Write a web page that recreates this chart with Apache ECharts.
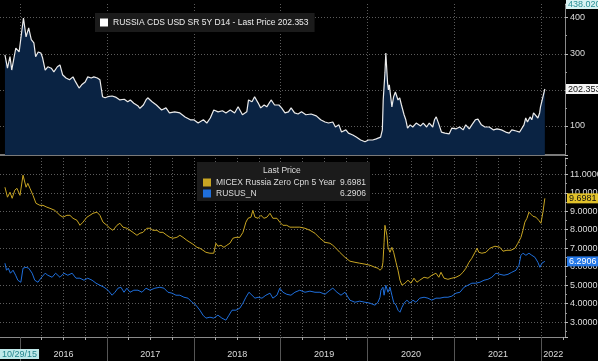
<!DOCTYPE html>
<html><head><meta charset="utf-8">
<script src="https://cdn.jsdelivr.net/npm/echarts@6/dist/echarts.min.js"></script>
<style>html,body{margin:0;padding:0;background:#000;}#c{width:598px;height:361px;}</style>
</head><body><div id="c"></div>
<script>
// ---- data (time as decimal years) ----
const cdsName = 'RUSSIA CDS USD SR 5Y D14';
const micexName = 'MICEX Russia Zero Cpn 5 Year';
const rususName = 'RUSUS_N';
const startLabel = '10/29/15';
const years = [2016, 2017, 2018, 2019, 2020, 2021, 2022];
const xRange = [2015.77, 2022.272];
const cdsRange = [19.4, 438.02];
const yieldRange = [2.2, 11.88];

const cdsT = [2015.827,2015.856,2015.885,2015.905,2015.952,2015.99,2016.04,2016.07,2016.10,2016.13,
2016.16,2016.18,2016.21,2016.24,2016.26,2016.29,2016.32,2016.36,2016.39,2016.43,
2016.46,2016.49,2016.53,2016.57,2016.61,2016.64,2016.68,2016.71,2016.75,2016.78,
2016.82,2016.85,2016.89,2016.92,2016.95,2016.98,2017.01,2017.06,2017.10,2017.15,
2017.20,2017.24,2017.27,2017.31,2017.36,2017.38,2017.42,2017.45,2017.47,2017.52,
2017.57,2017.63,2017.68,2017.72,2017.78,2017.84,2017.90,2017.96,2018.00,2018.05,
2018.11,2018.15,2018.19,2018.23,2018.28,2018.33,2018.37,2018.42,2018.47,2018.51,
2018.56,2018.61,2018.63,2018.67,2018.70,2018.74,2018.77,2018.81,2018.84,2018.89,
2018.93,2018.98,2019.01,2019.05,2019.09,2019.12,2019.16,2019.20,2019.24,2019.29,
2019.35,2019.41,2019.46,2019.51,2019.55,2019.60,2019.63,2019.67,2019.70,2019.75,
2019.78,2019.83,2019.87,2019.92,2019.97,2020.01,2020.06,2020.10,2020.15,2020.17,
2020.18,2020.20,2020.21,2020.23,2020.24,2020.25,2020.28,2020.30,2020.32,2020.35,
2020.37,2020.39,2020.42,2020.44,2020.46,2020.49,2020.52,2020.56,2020.61,2020.64,
2020.68,2020.71,2020.75,2020.77,2020.79,2020.82,2020.85,2020.89,2020.94,2020.97,
2021.02,2021.06,2021.10,2021.13,2021.17,2021.20,2021.24,2021.27,2021.31,2021.35,
2021.40,2021.45,2021.49,2021.54,2021.59,2021.63,2021.66,2021.71,2021.75,2021.80,
2021.82,2021.84,2021.87,2021.89,2021.91,2021.93,2021.96,2021.98,2021.99,2022.04];
const cdsV = [297,260,292,255,316,305,399,347,372,339,
330,292,305,302,289,255,264,260,250,264,
269,242,233,228,236,222,205,214,222,236,
233,236,233,228,181,178,181,183,180,172,
174,167,172,163,155,149,158,172,178,167,
158,144,150,136,139,136,125,117,117,108,
117,108,122,144,139,142,136,144,136,153,
131,139,172,167,181,164,150,158,153,172,
158,158,150,136,139,150,136,133,139,131,
133,128,117,111,108,111,97,103,83,89,
80,75,69,61,56,61,61,64,69,89,
172,247,302,219,200,214,153,181,194,172,
178,158,131,117,94,103,97,108,100,108,
97,108,97,117,125,105,83,80,78,94,
92,97,89,103,92,103,117,119,103,97,
97,89,92,89,83,80,89,86,83,103,
122,111,125,117,136,131,122,136,153,202.353];

const micexT = [2015.827,2015.856,2015.885,2015.91,2015.94,2015.965,2016.00,2016.035,2016.046,2016.07,
2016.09,2016.115,2016.15,2016.184,2016.23,2016.265,2016.31,2016.345,2016.40,2016.46,
2016.495,2016.54,2016.575,2016.61,2016.656,2016.69,2016.725,2016.77,2016.805,2016.84,
2016.886,2016.92,2016.955,2017.00,2017.035,2017.07,2017.116,2017.15,2017.185,2017.23,
2017.266,2017.30,2017.346,2017.38,2017.415,2017.46,2017.496,2017.53,2017.576,2017.61,
2017.645,2017.69,2017.726,2017.76,2017.806,2017.84,2017.876,2017.92,2017.956,2017.99,
2018.037,2018.07,2018.106,2018.14,2018.186,2018.23,2018.255,2018.278,2018.313,2018.347,
2018.38,2018.416,2018.45,2018.485,2018.53,2018.566,2018.60,2018.624,2018.658,2018.68,
2018.704,2018.74,2018.773,2018.808,2018.842,2018.877,2018.91,2018.957,2018.99,2019.026,
2019.07,2019.107,2019.164,2019.22,2019.28,2019.337,2019.395,2019.452,2019.51,2019.567,
2019.60,2019.636,2019.68,2019.74,2019.797,2019.855,2019.91,2019.97,2020.028,2020.085,
2020.12,2020.143,2020.166,2020.177,2020.19,2020.20,2020.21,2020.223,2020.235,2020.258,
2020.28,2020.30,2020.327,2020.35,2020.373,2020.396,2020.43,2020.465,2020.50,2020.534,
2020.568,2020.60,2020.65,2020.695,2020.74,2020.787,2020.82,2020.845,2020.88,2020.925,
2020.97,2021.017,2021.063,2021.098,2021.132,2021.167,2021.20,2021.236,2021.26,2021.28,
2021.316,2021.362,2021.408,2021.466,2021.523,2021.558,2021.604,2021.65,2021.696,2021.73,
2021.765,2021.788,2021.81,2021.834,2021.857,2021.88,2021.903,2021.937,2021.97,2021.995,
2022.018,2022.04];
const micexV = [10.30,9.76,10.03,9.70,10.14,10.24,9.86,10.95,11.05,10.30,
10.51,10.24,9.86,9.43,9.32,9.32,9.22,9.16,9.05,8.78,
8.68,8.78,8.78,8.62,8.51,8.24,8.41,8.68,8.78,8.89,
8.95,8.78,8.41,8.24,8.08,7.97,8.24,8.35,8.14,8.08,
7.97,7.86,7.70,7.81,7.86,8.08,8.08,7.97,7.97,7.86,
7.86,7.70,7.59,7.54,7.59,7.70,7.59,7.43,7.32,7.22,
7.05,7.00,6.89,6.78,6.73,6.73,7.27,7.11,7.16,7.05,
7.16,7.27,7.54,7.59,7.59,7.86,8.41,8.62,8.68,9.05,
8.68,8.62,8.78,8.62,8.68,8.89,8.62,8.62,8.41,8.24,
8.24,8.14,8.14,8.14,8.08,7.97,7.81,7.54,7.32,7.27,
7.16,7.00,6.78,6.51,6.30,6.24,6.19,6.14,6.08,5.97,
5.92,5.81,5.92,6.24,7.32,8.24,8.14,7.70,7.05,6.78,
7.05,6.78,6.24,5.81,5.27,5.00,5.11,5.27,5.11,5.38,
5.16,5.27,5.43,5.38,5.54,5.65,5.43,5.70,5.38,5.32,
5.38,5.43,5.54,5.70,5.92,6.24,6.46,6.78,7.00,6.78,
6.73,6.78,7.00,7.11,7.05,6.84,6.89,6.89,7.00,7.27,
7.59,7.97,8.41,8.62,8.95,8.84,8.73,8.68,8.51,8.35,
8.95,9.6981];

const rususT = [2015.827,2015.845,2015.865,2015.89,2015.92,2015.95,2015.975,2016.01,2016.035,2016.07,
2016.10,2016.14,2016.17,2016.207,2016.24,2016.29,2016.32,2016.37,2016.41,2016.46,
2016.506,2016.55,2016.60,2016.644,2016.69,2016.736,2016.78,2016.83,2016.875,2016.92,
2016.967,2017.013,2017.06,2017.093,2017.128,2017.162,2017.197,2017.23,2017.266,2017.31,
2017.358,2017.404,2017.45,2017.496,2017.553,2017.61,2017.657,2017.703,2017.75,2017.795,
2017.84,2017.887,2017.933,2017.98,2018.025,2018.07,2018.106,2018.14,2018.186,2018.23,
2018.278,2018.324,2018.37,2018.405,2018.44,2018.485,2018.53,2018.566,2018.60,2018.635,
2018.67,2018.704,2018.74,2018.785,2018.83,2018.877,2018.91,2018.957,2018.99,2019.026,
2019.07,2019.118,2019.164,2019.22,2019.28,2019.337,2019.395,2019.452,2019.51,2019.567,
2019.60,2019.648,2019.694,2019.74,2019.797,2019.855,2019.91,2019.97,2020.028,2020.085,
2020.12,2020.143,2020.154,2020.177,2020.19,2020.21,2020.235,2020.258,2020.28,2020.30,
2020.327,2020.35,2020.373,2020.396,2020.42,2020.453,2020.488,2020.522,2020.557,2020.60,
2020.65,2020.695,2020.74,2020.787,2020.833,2020.88,2020.925,2020.97,2021.017,2021.063,
2021.11,2021.155,2021.20,2021.247,2021.293,2021.34,2021.385,2021.43,2021.478,2021.523,
2021.57,2021.616,2021.66,2021.708,2021.742,2021.765,2021.788,2021.822,2021.857,2021.89,
2021.926,2021.96,2021.983,2022.006,2022.04];
const rususV = [6.19,5.81,5.92,5.65,5.81,5.54,5.27,5.16,5.92,5.97,
5.92,5.65,5.27,5.16,5.38,5.65,5.54,5.43,5.65,5.43,
5.65,5.54,5.65,5.38,5.38,5.27,5.38,5.27,5.11,5.00,
4.89,4.73,4.46,4.62,4.84,4.89,4.62,4.84,4.62,4.73,
4.73,4.62,4.84,4.73,4.84,4.89,4.84,4.62,4.57,4.46,
4.46,4.35,4.30,4.08,3.92,3.65,3.38,3.22,3.27,3.22,
3.38,3.22,3.11,3.38,3.65,3.65,3.76,4.03,4.35,4.62,
4.46,4.30,4.35,4.30,4.46,4.57,4.30,4.46,4.84,4.62,
4.51,4.46,4.62,4.73,4.62,4.68,4.62,4.62,4.51,4.73,
4.84,4.62,4.46,4.62,4.19,4.08,4.14,4.08,4.03,3.92,
4.08,4.35,4.73,4.89,4.46,5.00,4.62,4.89,4.46,4.08,
3.92,3.65,3.54,3.81,4.03,4.19,4.03,4.19,4.08,4.30,
4.35,4.30,4.19,4.30,4.30,4.35,4.35,4.41,4.57,4.62,
4.89,5.00,5.11,5.11,5.16,5.27,5.32,5.43,5.65,5.59,
5.54,5.59,5.70,5.81,6.08,6.62,6.73,6.62,6.73,6.62,
6.51,6.24,5.97,6.19,6.2906];

// ---- build ----
const FONT = "'Liberation Sans',Arial,sans-serif";
const FS = 9, LFS = 8.5;
const C = { grid:'#5c5c5c', axis:'#8a8a8a', text:'#dcdcdc', cdsLine:'#ebebeb', cdsArea:'#0a2343', yellow:'#c9a623', blue:'#1f6fdc' };
const zip = (t, v) => t.map((x, i) => [x, v[i]]);
const last = a => a[a.length - 1];
const quarterTicks = [];
years.forEach(y => [0, 0.25, 0.5, 0.75].forEach(q => { if (y + q <= xRange[1]) quarterTicks.push(y + q); }));
const yearMids = years.map(y => (Math.max(y, xRange[0]) + Math.min(y + 1, xRange[1])) / 2);
const dotted = { show: true, showMinLine: false, showMaxLine: false, lineStyle: { color: C.grid, type: [1, 2], width: 1 } };
const tagBox = (bg, fg) => ({ backgroundColor: bg, color: fg, padding: [1, 2, 0, 2], fontSize: FS, fontFamily: FONT });
const hidden = { axisLine: { show: false }, axisTick: { show: false }, splitLine: { show: false } };

const chart = echarts.init(document.getElementById('c'), null, { renderer: 'canvas' });
chart.setOption({
  backgroundColor: '#000',
  animation: false,
  textStyle: { fontFamily: FONT },
  grid: [
    { left: 0, right: 33, top: 4, height: 151, outerBoundsMode: 'none', containLabel: false },
    { left: 0, right: 33, top: 158, height: 179, outerBoundsMode: 'none', containLabel: false }
  ],
  title: {
    text: 'Last Price', left: 263, top: 166, padding: 0,
    textStyle: { color: C.text, fontSize: LFS, fontWeight: 'normal', fontFamily: FONT }
  },
  legend: [
    {
      data: [{ name: cdsName, itemStyle: { color: '#ffffff' } }],
      left: 95, top: 13, padding: [5, 6, 5, 5], itemWidth: 8, itemHeight: 8, icon: 'rect',
      backgroundColor: '#1b1b1b', selectedMode: false,
      formatter: n => n + ' - Last Price ' + last(cdsV).toFixed(3),
      textStyle: { color: '#eeeeee', fontSize: LFS, fontFamily: FONT }
    },
    {
      data: [{ name: micexName, itemStyle: { color: C.yellow } }, { name: rususName, itemStyle: { color: C.blue } }],
      orient: 'vertical', left: 197, top: 162, padding: [16, 4, 3, 6], itemGap: 2,
      itemWidth: 8, itemHeight: 8, icon: 'rect', backgroundColor: '#1b1b1b', selectedMode: false,
      formatter: n => '{n|' + n + '}{v|' + (n === micexName ? last(micexV) : last(rususV)).toFixed(4) + '}',
      textStyle: { color: C.text, fontSize: LFS, fontFamily: FONT,
        rich: { n: { width: 120, color: C.text, fontSize: LFS, fontFamily: FONT },
                v: { width: 30, align: 'right', color: C.text, fontSize: LFS, fontFamily: FONT } } }
    }
  ],
  xAxis: [
    { gridIndex: 0, type: 'value', position: 'bottom', min: xRange[0], max: xRange[1], minInterval: 1, maxInterval: 1,
      axisLine: { show: true, onZero: false, lineStyle: { color: '#7a7a7a', width: 2 } },
      axisTick: { show: false }, axisLabel: { show: false }, splitLine: dotted },
    { gridIndex: 1, type: 'value', position: 'bottom', min: xRange[0], max: xRange[1], minInterval: 1, maxInterval: 1,
      axisLine: { show: true, onZero: false, lineStyle: { color: C.axis, width: 1 } },
      axisTick: { show: true, customValues: quarterTicks, length: 3, lineStyle: { color: '#aaa' } },
      axisLabel: { show: true, customValues: yearMids, formatter: v => String(Math.floor(v)),
                   color: C.text, fontSize: FS, margin: 13, fontFamily: FONT },
      splitLine: dotted },
    { gridIndex: 1, type: 'value', position: 'bottom', min: xRange[0], max: xRange[1],
      axisLine: { show: false }, splitLine: { show: false },
      axisTick: { show: true, customValues: years, length: 24, lineStyle: { color: '#555' } },
      axisLabel: { show: false } },
    Object.assign({ gridIndex: 1, type: 'value', position: 'bottom', min: xRange[0], max: xRange[1],
      axisLabel: { show: true, customValues: [xRange[0]], align: 'left', margin: 12,
        formatter: () => '{s|' + startLabel + '}',
        rich: { s: tagBox('#bfe9ea', '#23858c') } } }, hidden)
  ],
  yAxis: [
    { gridIndex: 0, type: 'value', position: 'right', min: cdsRange[0], max: cdsRange[1],
      minInterval: 100, maxInterval: 100,
      axisLine: { show: true, lineStyle: { color: C.axis } },
      axisTick: { show: true, length: 3, lineStyle: { color: '#bbb' } },
      minorTick: { show: true, splitNumber: 2, length: 2, lineStyle: { color: '#999' } },
      axisLabel: { color: C.text, fontSize: FS, margin: 5, showMaxLabel: false, showMinLabel: false, fontFamily: FONT,
        formatter: v => (v % 100 === 0 ? String(v) : '') },
      splitLine: dotted },
    { gridIndex: 1, type: 'value', position: 'right', min: yieldRange[0], max: yieldRange[1],
      minInterval: 1, maxInterval: 1,
      axisLine: { show: true, lineStyle: { color: C.axis } },
      axisTick: { show: true, length: 3, lineStyle: { color: '#bbb' } },
      minorTick: { show: true, splitNumber: 2, length: 2, lineStyle: { color: '#999' } },
      axisLabel: { color: C.text, fontSize: FS, margin: 5, showMinLabel: false, showMaxLabel: false, fontFamily: FONT,
        formatter: v => Number.isInteger(v) ? v.toFixed(4) : '' },
      splitLine: dotted },
    Object.assign({ gridIndex: 0, type: 'value', position: 'right', min: cdsRange[0], max: cdsRange[1],
      axisLabel: { show: true, customValues: [cdsRange[1], last(cdsV)], margin: 1,
        formatter: v => v === cdsRange[1] ? '{mx|' + v.toFixed(3) + '}' : '{t|' + v.toFixed(3) + '}',
        rich: { mx: tagBox('#d9f2f2', '#2a9096'), t: tagBox('#f4f4f4', '#111') } } }, hidden),
    Object.assign({ gridIndex: 1, type: 'value', position: 'right', min: yieldRange[0], max: yieldRange[1],
      axisLabel: { show: true, customValues: [last(micexV), last(rususV)], margin: 2,
        formatter: v => v === last(micexV) ? '{y|' + v.toFixed(4) + '}' : '{b|' + v.toFixed(4) + '}',
        rich: { y: tagBox('#e2c22a', '#111'), b: tagBox('#2477e6', '#fff') } } }, hidden)
  ],
  series: [
    { name: cdsName, type: 'line', xAxisIndex: 0, yAxisIndex: 0, data: zip(cdsT, cdsV),
      symbol: 'none', itemStyle: { color: '#ffffff' },
      lineStyle: { color: C.cdsLine, width: 1.2 }, areaStyle: { color: C.cdsArea, opacity: 1 } },
    { name: micexName, type: 'line', xAxisIndex: 1, yAxisIndex: 1, data: zip(micexT, micexV),
      symbol: 'none', itemStyle: { color: C.yellow }, lineStyle: { color: C.yellow, width: 1 } },
    { name: rususName, type: 'line', xAxisIndex: 1, yAxisIndex: 1, data: zip(rususT, rususV),
      symbol: 'none', itemStyle: { color: C.blue }, lineStyle: { color: C.blue, width: 1 } }
  ]
});
</script>
</body></html>
